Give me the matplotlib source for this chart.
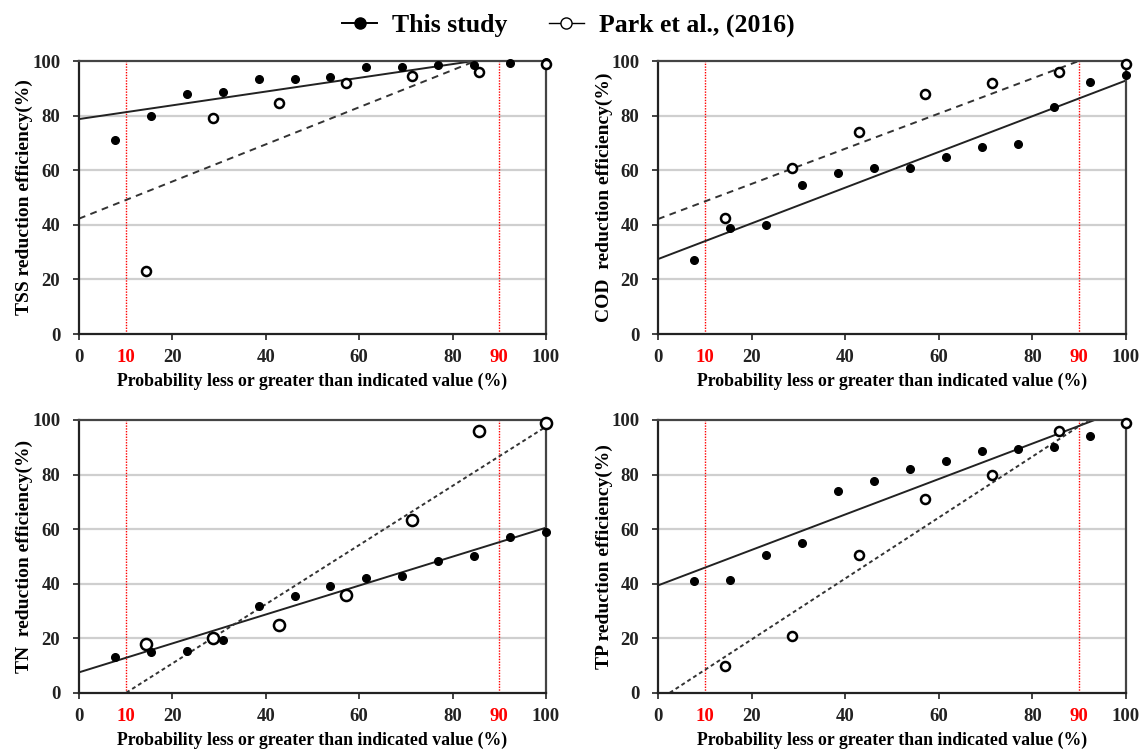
import matplotlib.pyplot as plt
from matplotlib.lines import Line2D
import numpy as np

# =========================
# STYLE
# =========================
plt.rcParams.update({
    "font.family": "serif",
    "font.serif": ["Liberation Serif", "DejaVu Serif"],
    "font.weight": "bold",
    "axes.labelweight": "bold",
})

# =========================
# DATA
# =========================
x_this = [7.7, 15.4, 23.1, 30.8, 38.5, 46.2, 53.8, 61.5, 69.2, 76.9, 84.6, 92.3, 100.0]
x_park = [14.3, 28.6, 42.9, 57.1, 71.4, 85.7, 100.0]

tss_this = [71, 80, 88, 88.5, 93.5, 93.5, 94, 97.8, 98, 98.5, 98.5, 99.2, 99.5]
tss_park = [23, 79, 84.5, 92, 94.5, 96, 99]

cod_this = [27, 39, 40, 54.5, 59, 61, 61, 65, 68.5, 69.5, 83, 92.5, 95]
cod_park = [42.5, 61, 74, 88, 92, 96, 99]

tn_this = [13, 15, 15.2, 19.5, 32, 35.5, 39, 42, 43, 48.5, 50.2, 57, 59]
tn_park = [18, 20, 25, 36, 63.5, 96, 99]

tp_this = [41, 41.2, 50.5, 55, 74, 77.5, 82, 85, 88.5, 89.2, 90, 94, 99]
tp_park = [10, 21, 50.5, 71, 80, 96, 99]

panels = [
    ("TSS reduction efficiency(%)", tss_this, tss_park, 3.5),
    ("COD  reduction efficiency(%)", cod_this, cod_park, 3.5),
    ("TN  reduction efficiency(%)", tn_this, tn_park, 2),
    ("TP reduction efficiency(%)", tp_this, tp_park, 2),
]

xlabel = "Probability less or greater than indicated value (%)"

# =========================
# FIGURE
# =========================
fig = plt.figure(figsize=(11.46, 7.54), dpi=100)
positions = [
    [0.0689, 0.557, 0.4075, 0.362],
    [0.5742, 0.557, 0.4084, 0.362],
    [0.0689, 0.081, 0.4075, 0.362],
    [0.5742, 0.081, 0.4084, 0.362],
]

xs_fit = np.linspace(0, 100, 200)

for i, (ylabel, y_this, y_park, dash) in enumerate(panels):
    ax = fig.add_axes(positions[i])
    xt = np.array(x_this[:len(y_this)])
    xp = np.array(x_park)

    ax.set_xlim(0, 100)
    ax.set_ylim(0, 100)

    for gy in [20, 40, 60, 80]:
        ax.axhline(gy, color="#cfcfcf", lw=1.6, zorder=0)
    for vx in [10, 90]:
        ax.axvline(vx, color="red", lw=1.0, ls=(0, (1, 1)), zorder=1)

    # linear trend lines
    k1, b1 = np.polyfit(xt, y_this, 1)
    k2, b2 = np.polyfit(xp, y_park, 1)
    ax.plot(xs_fit, k1 * xs_fit + b1, color="#222222", lw=1.4, zorder=2)
    ax.plot(xs_fit, k2 * xs_fit + b2, color="#333333", lw=1.4,
            ls=(0, (dash, dash * 0.8)), zorder=2)

    ax.plot(xt, y_this, "o", color="black", ms=5.5, zorder=3, clip_on=False)
    ms_open = 8 if i == 2 else 6.5
    ax.plot(xp, y_park, "o", mfc="white", mec="black", mew=1.8, ms=ms_open,
            zorder=4, clip_on=False)

    ax.set_xticks([0, 20, 40, 60, 80, 100])
    ax.set_xticks([10, 90], minor=True)
    ax.set_xticklabels(["10", "90"], minor=True, color="red")
    ax.tick_params(axis="both", which="major", length=4, width=1.2,
                   direction="out", labelsize=13.5, colors="#222222")
    ax.tick_params(axis="x", which="major", pad=6.5)
    ax.tick_params(axis="y", which="major", pad=9.5)
    ax.tick_params(axis="x", which="minor", length=0, pad=10.5, labelsize=13.5)
    ax.set_yticks([0, 20, 40, 60, 80, 100])
    for lab in ax.get_xticklabels() + ax.get_yticklabels() + ax.get_xticklabels(minor=True):
        lab.set_fontweight("bold")

    for sp in ax.spines.values():
        sp.set_color("#444444")
        sp.set_linewidth(1.6)
    ax.spines["left"].set_color("#222222")
    ax.spines["bottom"].set_color("#222222")

    ax.set_ylabel(ylabel, fontsize=14, fontweight="bold", labelpad=-1)
    ax.set_xlabel(xlabel, fontsize=12.8, fontweight="bold", labelpad=5)

# =========================
# LEGEND
# =========================
handles = [
    Line2D([], [], color="black", lw=1.4, marker="o", ms=8, mfc="black"),
    Line2D([], [], color="black", lw=1.0, marker="o", ms=8, mfc="white", mew=1.0),
]
fig.legend(handles, ["This study", "Park et al., (2016)"], loc="upper center",
           bbox_to_anchor=(0.496, 1.012), ncol=2, frameon=False,
           prop={"size": 18.5, "weight": "bold"}, handlelength=1.35,
           columnspacing=1.6, handletextpad=0.6)

fig.savefig("out.png", dpi=100)
